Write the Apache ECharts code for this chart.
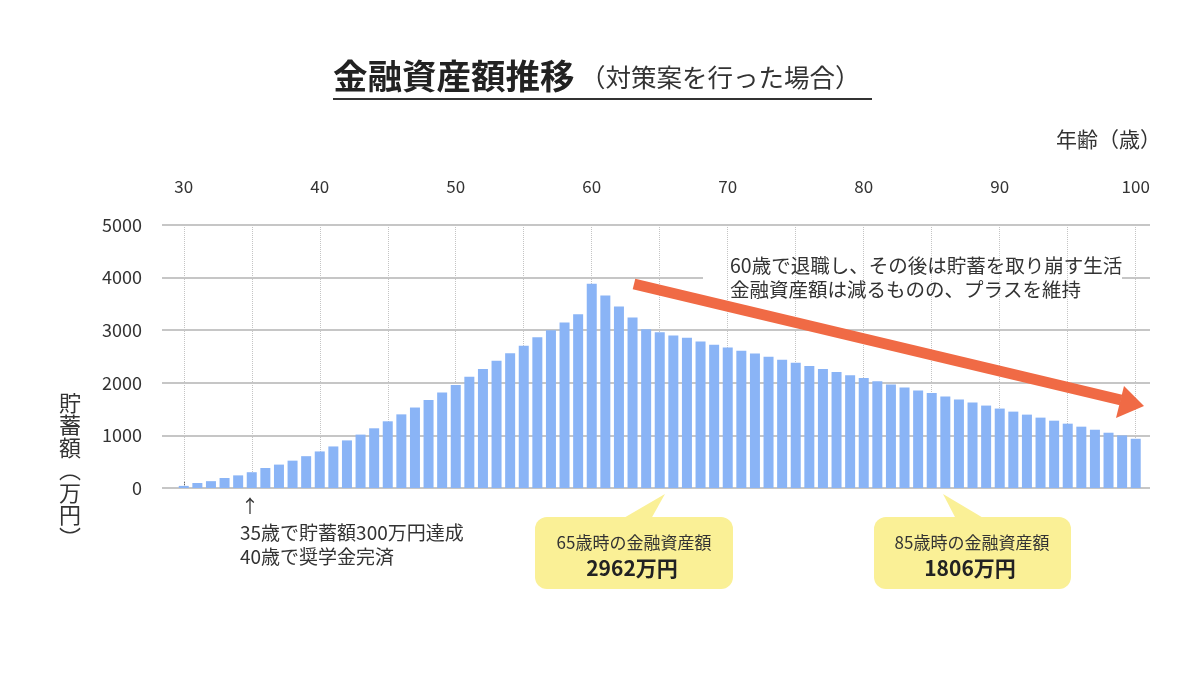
<!DOCTYPE html>
<html>
<head>
<meta charset="utf-8">
<title>金融資産額推移</title>
<script src="https://cdn.jsdelivr.net/npm/echarts@6/dist/echarts.min.js"></script>
<style>
	html, body { margin: 0; padding: 0; background: #fff; }
	#main { width: 1200px; height: 674px; }
</style>
</head>
<body>
<div id="main"></div>
<script>
var ages = [30, 31, 32, 33, 34, 35, 36, 37, 38, 39,
	40, 41, 42, 43, 44, 45, 46, 47, 48, 49,
	50, 51, 52, 53, 54, 55, 56, 57, 58, 59,
	60, 61, 62, 63, 64, 65, 66, 67, 68, 69,
	70, 71, 72, 73, 74, 75, 76, 77, 78, 79,
	80, 81, 82, 83, 84, 85, 86, 87, 88, 89,
	90, 91, 92, 93, 94, 95, 96, 97, 98, 99, 100];

var savings = [40, 95, 130, 190, 240, 300, 380, 445, 520, 605,
	695, 790, 905, 1015, 1135, 1268, 1400, 1530, 1675, 1815,
	1960, 2115, 2260, 2420, 2560, 2705, 2865, 3000, 3145, 3305,
	3885, 3660, 3450, 3240, 3020, 2962, 2900, 2855, 2785, 2725,
	2670, 2610, 2555, 2495, 2440, 2380, 2320, 2260, 2205, 2145,
	2090, 2030, 1970, 1911, 1855, 1806, 1740, 1682, 1625, 1567,
	1510, 1452, 1395, 1338, 1280, 1223, 1166, 1108, 1051, 1000, 936];

var ageLabels = [30, 40, 50, 60, 70, 80, 90, 100];
var dottedAges = [30, 35, 40, 45, 50, 55, 60, 65, 70, 75, 80, 85, 90, 95, 100];

var font = '"Noto Sans CJK JP", "Noto Sans", sans-serif';

(function() {
	var myChart = echarts.init(document.getElementById("main"));

	var barData = ages.map(function(a, i) {
		return [a, savings[i]];
	});

	var option = {
		animation: false,
		textStyle: { fontFamily: font },
		grid: { left: 162, right: 50, top: 225, bottom: 186 },
		xAxis: {
			type: "value",
			position: "top",
			min: 28.4,
			max: 101.05,
			axisLine: { show: false },
			axisTick: {
				show: true,
				length: 7,
				customValues: ageLabels,
				lineStyle: { color: "#666", width: 1 }
			},
			axisLabel: {
				customValues: ageLabels,
				fontSize: 17,
				color: "#333",
				margin: 30
			},
			splitLine: { show: false }
		},
		yAxis: {
			type: "value",
			min: 0,
			max: 5000,
			interval: 1000,
			axisLine: { show: false },
			axisTick: { show: false },
			axisLabel: {
				fontSize: 18,
				color: "#333",
				margin: 20,
				formatter: function(v) { return String(v); }
			},
			splitLine: { lineStyle: { color: "#b3b3b3", width: 1.5 } }
		},
		series: [{
			type: "bar",
			data: barData,
			barWidth: 10,
			z: 3,
			itemStyle: { color: "#8ab4f6" },
			markLine: {
				silent: true,
				z: 2,
				symbol: ["none", "none"],
				label: { show: false },
				lineStyle: { color: "#c4c4c4", type: "dotted", width: 1 },
				data: dottedAges.map(function(a) { return { xAxis: a }; })
			}
		}],
		graphic: [
			// title
			{ type: "text", left: 333, top: 59, z: 10,
				style: { text: "金融資産額推移", font: "bold 34.5px " + font, fill: "#222" } },
			{ type: "text", left: 580, top: 65, z: 10,
				style: { text: "（対策案を行った場合）", font: "25.5px " + font, fill: "#333" } },
			{ type: "line", z: 10, shape: { x1: 333, y1: 99, x2: 872, y2: 99 },
				style: { stroke: "#333", lineWidth: 2 } },
			// axis names
			{ type: "text", left: 1056, top: 129, z: 10,
				style: { text: "年齢（歳）", font: "21px " + font, fill: "#333" } },
			{ type: "text", left: 59, top: 391, z: 10,
				style: { text: "貯\n蓄\n額\n︵\n万\n円\n︶", font: "22px " + font, fill: "#333", lineHeight: 22.5, align: "left" } },
			// note: 35 / 40
			{ type: "text", left: 241, top: 497, z: 10,
				style: { text: "↑", font: "18px " + font, fill: "#333" } },
			{ type: "text", left: 240, top: 521, z: 10,
				style: { text: "35歳で貯蓄額300万円達成\n40歳で奨学金完済", font: "19px " + font, fill: "#333", lineHeight: 24 } },
			// retirement note with white box over gridline
			{ type: "rect", z: 1, shape: { x: 703, y: 250, width: 419, height: 56 },
				style: { fill: "#fff" } },
			{ type: "text", left: 730, top: 254, z: 10,
				style: { text: "60歳で退職し、その後は貯蓄を取り崩す生活\n金融資産額は減るものの、プラスを維持", font: "19.5px " + font, fill: "#333", lineHeight: 24 } },
			// orange arrow
			{ type: "line", z: 10, shape: { x1: 634, y1: 284, x2: 1121, y2: 400 },
				style: { stroke: "#f06a45", lineWidth: 11 } },
			{ type: "polygon", z: 10, shape: { points: [[1144, 406], [1124, 386], [1116, 418]] },
				style: { fill: "#f06a45" } },
			// bubble 65
			{ type: "rect", z: 10, shape: { x: 535, y: 517, width: 198, height: 72, r: 12 },
				style: { fill: "#faf096" } },
			{ type: "polygon", z: 10, shape: { points: [[622, 519], [665, 494], [651, 519]] },
				style: { fill: "#faf096" } },
			{ type: "text", z: 11, x: 634, y: 543,
				style: { text: "65歳時の金融資産額", font: "17px " + font, fill: "#333", align: "center", verticalAlign: "middle" } },
			{ type: "text", z: 11, x: 632, y: 568,
				style: { text: "2962万円", font: "bold 21px " + font, fill: "#222", align: "center", verticalAlign: "middle" } },
			// bubble 85
			{ type: "rect", z: 10, shape: { x: 874, y: 517, width: 197, height: 72, r: 12 },
				style: { fill: "#faf096" } },
			{ type: "polygon", z: 10, shape: { points: [[956, 519], [943, 494], [985, 519]] },
				style: { fill: "#faf096" } },
			{ type: "text", z: 11, x: 972, y: 543,
				style: { text: "85歳時の金融資産額", font: "17px " + font, fill: "#333", align: "center", verticalAlign: "middle" } },
			{ type: "text", z: 11, x: 970, y: 568,
				style: { text: "1806万円", font: "bold 21px " + font, fill: "#222", align: "center", verticalAlign: "middle" } }
		]
	};

	myChart.setOption(option);

	window.addEventListener("resize", function() {
		myChart.resize();
	});
})();
</script>
</body>
</html>
